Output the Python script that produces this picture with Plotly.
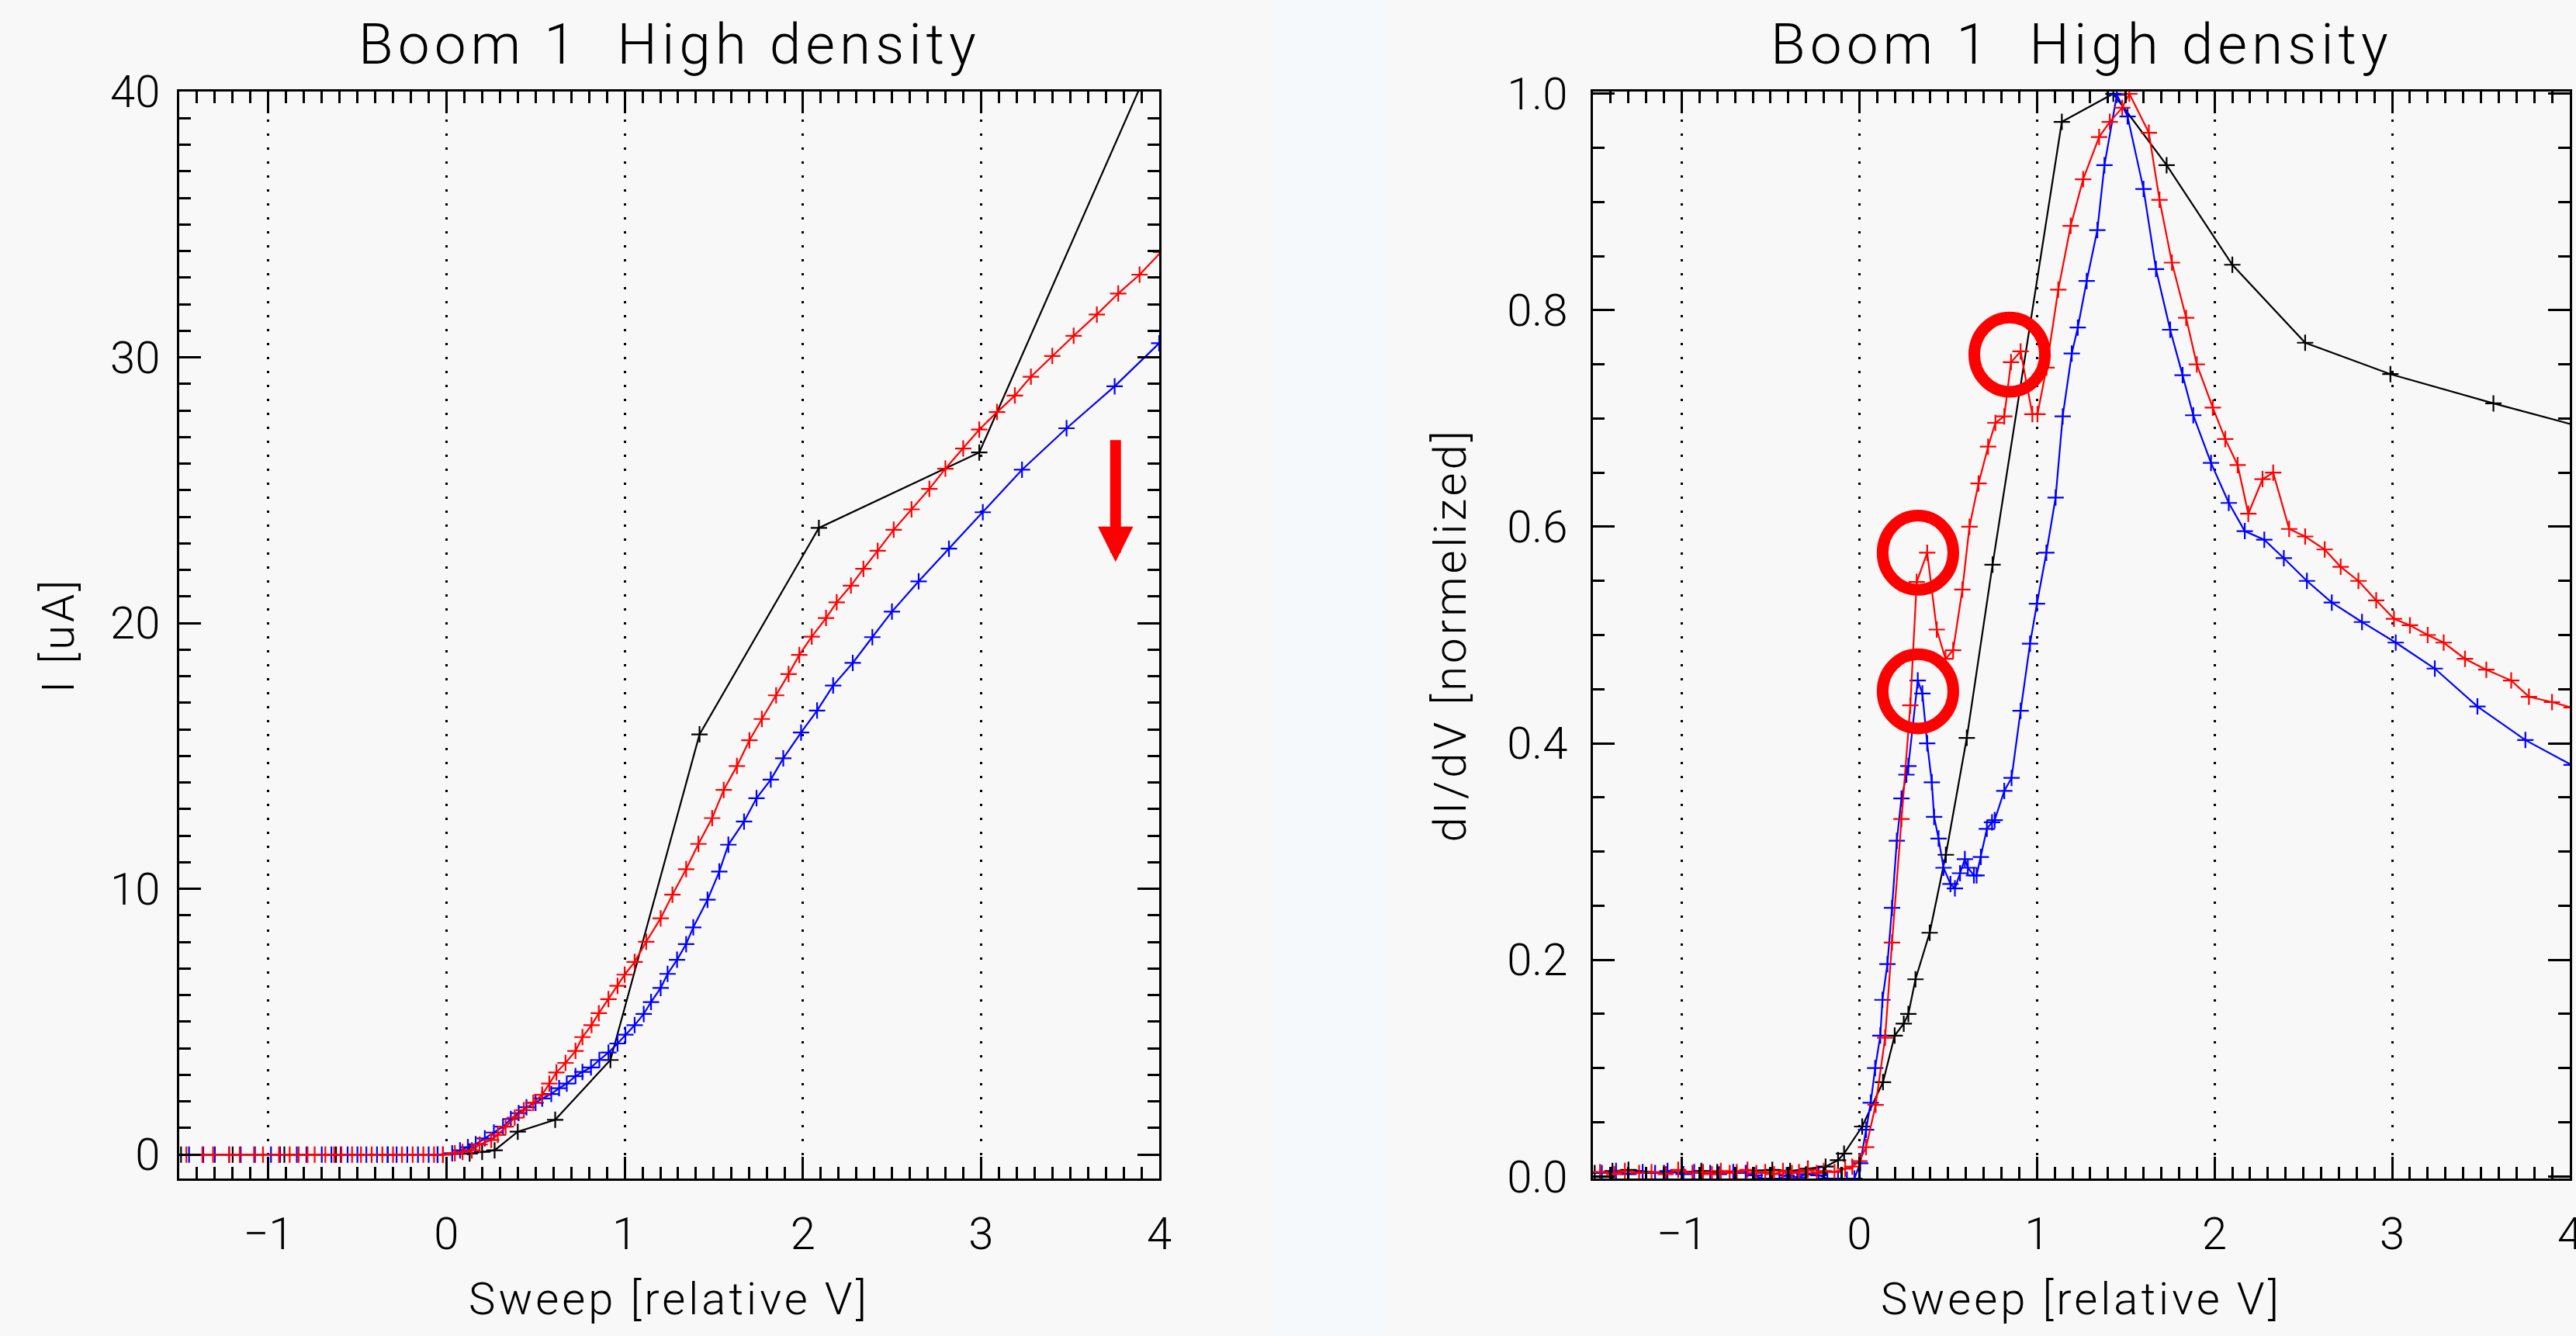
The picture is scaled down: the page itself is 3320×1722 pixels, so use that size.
import plotly.graph_objects as go

# ---------------- data: left panel, I-V sweep ----------------
iv_black_x = [-1.49, -1.20, -0.91, -0.62, -0.33, -0.05, 0.13, 0.20, 0.27, 0.40,
              0.61, 0.92, 1.42, 2.09, 2.99, 4.25]
iv_black_y = [0.0, 0.0, 0.0, 0.0, 0.0, 0.0, 0.04, 0.10, 0.16, 0.86,
              1.31, 3.56, 15.81, 23.58, 26.42, 45.6]

iv_red_x = [-1.46, -1.37, -1.31, -1.22, -1.16, -1.08, -1.03, -0.94, -0.88, -0.83,
            -0.78, -0.74, -0.68, -0.63, -0.59, -0.53, -0.48, -0.42, -0.36, -0.30,
            -0.25, -0.19, -0.13, -0.07, -0.02,
            0.047, 0.09, 0.142, 0.186, 0.251, 0.288, 0.332, 0.383, 0.434, 0.487,
            0.537, 0.577, 0.617, 0.668, 0.724, 0.763, 0.814, 0.855, 0.909, 0.96,
            1.0, 1.056, 1.121, 1.202, 1.268, 1.345, 1.414, 1.491, 1.556, 1.63,
            1.70, 1.77, 1.85, 1.92, 1.98, 2.05, 2.13, 2.19, 2.27, 2.34,
            2.42, 2.51, 2.61, 2.71, 2.80, 2.90, 2.99, 3.09, 3.19, 3.28,
            3.40, 3.52, 3.65, 3.77, 3.89, 4.01]
iv_red_y = [0.0, 0.0, 0.0, 0.0, 0.0, 0.0, 0.0, 0.0, 0.0, 0.0,
            0.0, 0.0, 0.0, 0.0, 0.0, 0.0, 0.0, 0.0, 0.0, 0.0,
            0.0, 0.0, 0.0, 0.0, 0.0,
            0.05, 0.10, 0.16, 0.38, 0.55, 0.74, 1.05, 1.39, 1.67, 1.95,
            2.25, 2.67, 3.09, 3.45, 3.90, 4.42, 4.87, 5.32, 5.85, 6.35,
            6.77, 7.25, 8.01, 8.89, 9.78, 10.74, 11.69, 12.66, 13.72, 14.62,
            15.59, 16.39, 17.28, 18.08, 18.80, 19.49, 20.19, 20.78, 21.41, 22.04,
            22.72, 23.51, 24.28, 25.05, 25.81, 26.57, 27.28, 27.94, 28.56, 29.27,
            30.05, 30.81, 31.61, 32.40, 33.11, 33.96]

iv_blue_x = [-1.445, -1.365, -1.30, -1.22, -1.155, -1.075, -0.985, -0.934, -0.84, -0.786,
             -0.70, -0.646, -0.594, -0.555, -0.50, -0.45, -0.39, -0.33, -0.28, -0.22,
             -0.16, -0.10, -0.05, -0.02,
             0.032, 0.076, 0.12, 0.164, 0.215, 0.266, 0.317, 0.361, 0.405, 0.449,
             0.50, 0.537, 0.588, 0.632, 0.675, 0.724, 0.763, 0.811, 0.858, 0.909,
             0.96, 1.004, 1.056, 1.107, 1.148, 1.202, 1.241, 1.294, 1.345, 1.385,
             1.465, 1.531, 1.582, 1.67, 1.74, 1.82, 1.89, 1.99, 2.08, 2.17,
             2.28, 2.39, 2.50, 2.65, 2.82, 3.01, 3.23, 3.48, 3.75, 4.0]
iv_blue_y = [0.0, 0.0, 0.0, 0.0, 0.0, 0.0, 0.0, 0.0, 0.0, 0.0,
             0.0, 0.0, 0.0, 0.0, 0.0, 0.0, 0.0, 0.0, 0.0, 0.0,
             0.0, 0.0, 0.0, 0.0,
             0.05, 0.16, 0.28, 0.39, 0.61, 0.83, 1.05, 1.34, 1.56, 1.78,
             1.95, 2.11, 2.28, 2.50, 2.67, 2.95, 3.11, 3.28, 3.56, 3.84,
             4.18, 4.51, 4.87, 5.29, 5.74, 6.27, 6.80, 7.33, 7.92, 8.55,
             9.59, 10.65, 11.66, 12.53, 13.41, 14.11, 14.91, 15.88, 16.71, 17.65,
             18.50, 19.47, 20.43, 21.57, 22.80, 24.17, 25.77, 27.33, 28.91, 30.53]

# ---------------- data: right panel, normalized dI/dV ----------------
dv_black_x = [-1.49, -1.39, -1.30, -1.10, -0.89, -0.80, -0.49, -0.39, -0.29, -0.19,
              -0.12, -0.086, 0.016, 0.133, 0.199, 0.250, 0.276, 0.316, 0.396, 0.487,
              0.605, 0.750, 1.14, 1.43, 1.73, 2.10, 2.51, 2.99, 3.57, 4.25]
dv_black_y = [0.003, 0.005, 0.006, 0.003, 0.005, 0.004, 0.006, 0.005, 0.007, 0.009,
              0.015, 0.021, 0.046, 0.087, 0.130, 0.141, 0.150, 0.182, 0.225, 0.297,
              0.405, 0.565, 0.974, 1.0, 0.934, 0.842, 0.770, 0.741, 0.714, 0.684]

dv_red_x = [-1.46, -1.38, -1.32, -1.24, -1.17, -1.09, -1.02, -0.94, -0.88, -0.83,
            -0.78, -0.73, -0.69, -0.63, -0.58, -0.53, -0.48, -0.43, -0.38, -0.34,
            -0.29, -0.24, -0.20, -0.14, -0.08, -0.04,
            0.0, 0.038, 0.092, 0.145, 0.184, 0.237, 0.287, 0.323, 0.382, 0.436,
            0.485, 0.528, 0.580, 0.620, 0.671, 0.725, 0.766, 0.816, 0.854, 0.908,
            0.974, 1.003, 1.054, 1.12, 1.19, 1.26, 1.35, 1.41, 1.48, 1.52,
            1.63, 1.69, 1.76, 1.84, 1.90, 1.99, 2.06, 2.13, 2.19, 2.27,
            2.33, 2.42, 2.51, 2.62, 2.71, 2.81, 2.91, 3.01, 3.10, 3.20,
            3.29, 3.41, 3.53, 3.67, 3.77, 3.90, 4.01]
dv_red_y = [0.004, 0.002, 0.005, 0.003, 0.004, 0.002, 0.006, 0.003, 0.004, 0.002,
            0.005, 0.003, 0.004, 0.006, 0.003, 0.004, 0.002, 0.005, 0.003, 0.004,
            0.006, 0.003, 0.005, 0.004, 0.007, 0.009,
            0.014, 0.027, 0.066, 0.128, 0.216, 0.330, 0.435, 0.549, 0.576, 0.505,
            0.478, 0.486, 0.542, 0.600, 0.640, 0.674, 0.696, 0.702, 0.752, 0.762,
            0.704, 0.704, 0.747, 0.819, 0.878, 0.921, 0.960, 0.974, 0.987, 1.0,
            0.964, 0.902, 0.844, 0.793, 0.750, 0.710, 0.681, 0.657, 0.612, 0.644,
            0.650, 0.598, 0.591, 0.579, 0.563, 0.550, 0.532, 0.515, 0.509, 0.500,
            0.493, 0.478, 0.468, 0.458, 0.443, 0.438, 0.433]

dv_blue_x = [-1.45, -1.37, -1.30, -1.22, -1.15, -1.08, -0.99, -0.93, -0.84, -0.79,
             -0.71, -0.64, -0.59, -0.55, -0.45, -0.41, -0.35, -0.30, -0.23, -0.18,
             -0.12, -0.07, -0.028, 0.005,
             0.038, 0.064, 0.089, 0.118, 0.130, 0.158, 0.184, 0.211, 0.237, 0.265,
             0.276, 0.329, 0.355, 0.382, 0.408, 0.421, 0.446, 0.474, 0.513, 0.538,
             0.567, 0.594, 0.611, 0.645, 0.660, 0.684, 0.718, 0.747, 0.762, 0.816,
             0.857, 0.908, 0.961, 1.000, 1.053, 1.105, 1.145, 1.196, 1.230, 1.280,
             1.340, 1.380, 1.450, 1.510, 1.600, 1.670, 1.750, 1.820, 1.880, 1.980,
             2.080, 2.170, 2.280, 2.390, 2.520, 2.660, 2.830, 3.020, 3.240, 3.480,
             3.750, 4.010]
dv_blue_y = [0.003, 0.005, 0.002, 0.004, 0.003, 0.005, 0.002, 0.004, 0.003, 0.002,
             0.004, 0.003, 0.001, -0.002, -0.002, 0.001, -0.001, 0.002, 0.001, -0.002,
             -0.002, -0.003, -0.002, 0.012,
             0.043, 0.068, 0.100, 0.130, 0.163, 0.196, 0.248, 0.310, 0.349, 0.371,
             0.379, 0.458, 0.446, 0.400, 0.364, 0.332, 0.312, 0.285, 0.270, 0.266,
             0.280, 0.293, 0.285, 0.278, 0.278, 0.295, 0.321, 0.327, 0.329, 0.356,
             0.368, 0.430, 0.492, 0.529, 0.576, 0.627, 0.702, 0.760, 0.784, 0.827,
             0.874, 0.934, 0.999, 0.979, 0.912, 0.838, 0.782, 0.740, 0.703, 0.659,
             0.622, 0.596, 0.588, 0.571, 0.550, 0.530, 0.512, 0.493, 0.469, 0.434,
             0.403, 0.380]

# highlighted features (centres in data units of the right panel)
circle_x = [0.846, 0.330, 0.330]
circle_y = [0.759, 0.576, 0.448]

# red arrow in the left panel (data units)
arrow_x = 3.755
arrow_y_from = 26.93
arrow_y_to = 22.30

title_text = "Boom 1  High density"
xtitle_text = "Sweep [relative V]"
ytitle_left = "I [uA]"
ytitle_right = "dI/dV [normelized]"

for a, b in [(iv_black_x, iv_black_y), (iv_red_x, iv_red_y), (iv_blue_x, iv_blue_y),
             (dv_black_x, dv_black_y), (dv_red_x, dv_red_y), (dv_blue_x, dv_blue_y)]:
    assert len(a) == len(b), (len(a), len(b))

# ---------------- figure ----------------
W, H = 3320, 1722
FONT = "Roboto"
BG = "#f8f8f8"

fig = go.Figure()


def add_series(x, y, color, xa, ya):
    fig.add_trace(go.Scatter(
        x=x, y=y, mode="lines+markers", xaxis=xa, yaxis=ya, showlegend=False,
        line=dict(color=color, width=2.2),
        marker=dict(symbol="cross-thin", size=15, color=color,
                    line=dict(color=color, width=2.2)),
        cliponaxis=True, hoverinfo="skip"))


add_series(iv_black_x, iv_black_y, "#000000", "x", "y")
add_series(iv_blue_x, iv_blue_y, "#0000ff", "x", "y")
add_series(iv_red_x, iv_red_y, "#ff0000", "x", "y")
add_series(dv_black_x, dv_black_y, "#000000", "x2", "y2")
add_series(dv_blue_x, dv_blue_y, "#0000ff", "x2", "y2")
add_series(dv_red_x, dv_red_y, "#ff0000", "x2", "y2")

tickfont = dict(family=FONT, size=58, color="black", weight=300)
titlefont = dict(family=FONT, size=58, color="black", weight=300)


def spaced(t, px):
    return "<span style='letter-spacing:%dpx'>%s</span>" % (px, t)


common = dict(showline=True, linecolor="black", linewidth=3, mirror="ticks",
              ticks="inside", ticklen=28, tickwidth=3, tickcolor="black",
              zeroline=False, tickfont=tickfont, automargin=False)

xcommon = dict(common, range=[-1.5, 4], tick0=0, dtick=1,
               showgrid=True, gridcolor="black", gridwidth=3, griddash="3px,15px",
               minor=dict(ticks="inside", ticklen=15, tickwidth=3, tickcolor="black",
                          dtick=0.1, tick0=0, showgrid=False),
               ticklabelstandoff=18, ticklabeloverflow="allow",
               title=dict(text=spaced(xtitle_text, 4), font=titlefont, standoff=31))

ydom = [1 - 1519 / H, 1 - 118 / H]

fig.update_layout(
    width=W, height=H,
    margin=dict(l=0, r=0, t=0, b=0, pad=0, autoexpand=False),
    paper_bgcolor=BG, plot_bgcolor=BG,
    font=dict(family=FONT, color="black"),
    xaxis=dict(xcommon, domain=[231 / W, 1494 / W], anchor="y"),
    xaxis2=dict(xcommon, domain=[2053 / W, 3312 / W], anchor="y2"),
    yaxis=dict(common, domain=ydom, anchor="x", range=[-0.9, 40], tick0=0, dtick=10,
               showgrid=False,
               minor=dict(ticks="inside", ticklen=15, tickwidth=3, tickcolor="black",
                          dtick=1, tick0=0, showgrid=False),
               ticklabelstandoff=10, ticklabeloverflow="allow",
               title=dict(text=spaced(ytitle_left, 4), font=titlefont, standoff=28)),
    yaxis2=dict(common, domain=ydom, anchor="x2", range=[-0.002, 1.002], tick0=0,
                dtick=0.2, tickformat=".1f", showgrid=False,
                minor=dict(ticks="inside", ticklen=15, tickwidth=3, tickcolor="black",
                           dtick=0.05, tick0=0, showgrid=False),
                ticklabelstandoff=18, ticklabeloverflow="allow",
                title=dict(text=spaced(ytitle_right, 4), font=titlefont, standoff=34)),
)

# light strip between the two panels
fig.add_shape(type="rect", xref="paper", yref="paper", x0=1637 / W, x1=1790 / W,
              y0=0, y1=1, fillcolor="#f5f9fc", line=dict(width=0), layer="below")

# panel titles
for xc in [(231 + 1494) / 2 / W, (2053 + 3312) / 2 / W]:
    fig.add_annotation(text=spaced(title_text, 6), xref="paper", yref="paper",
                       x=xc, y=1 - 57 / H, xanchor="center", yanchor="middle",
                       showarrow=False,
                       font=dict(family=FONT, size=73, color="black", weight=300))

# red circles marking features on the right panel
rx, ry = 0.199, 0.0343
for cx, cy in zip(circle_x, circle_y):
    fig.add_shape(type="circle", xref="x2", yref="y2",
                  x0=cx - rx, x1=cx + rx, y0=cy - ry, y1=cy + ry,
                  line=dict(color="#ff0000", width=15), layer="above")

# red arrow on the left panel
fig.add_annotation(x=arrow_x, y=arrow_y_to, ax=arrow_x, ay=arrow_y_from,
                   xref="x", yref="y", axref="x", ayref="y", text="",
                   showarrow=True, arrowhead=2, arrowsize=0.65, arrowwidth=14,
                   arrowcolor="#ff0000", standoff=0)

fig.write_html("out.html",
               config={"displayModeBar": False},
               post_script="document.body.style.margin='0px';"
                           "document.body.style.padding='0px';")
